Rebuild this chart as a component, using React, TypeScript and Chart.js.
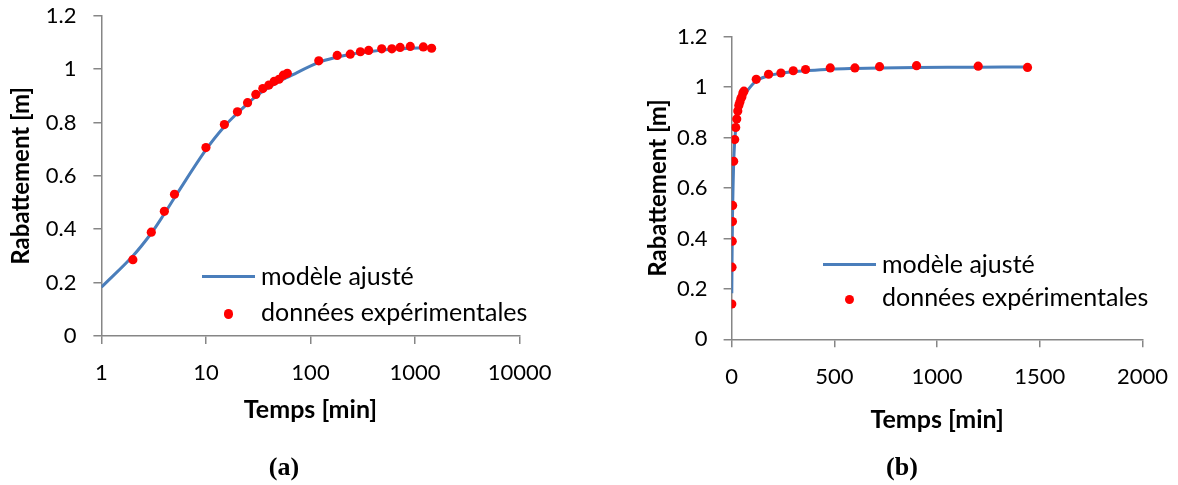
import React, { useEffect, useRef } from "react";
import { Chart, registerables } from "chart.js";

Chart.register(...registerables);

// ---- data ----
const timeMin = [1, 2, 3, 4, 5, 10, 15, 20, 25, 30, 35, 40, 45, 50, 55, 60, 120, 180, 240, 300, 360, 480, 600, 720, 900, 1200, 1440];
const measured = [0.14, 0.286, 0.389, 0.467, 0.531, 0.706, 0.792, 0.84, 0.874, 0.905, 0.927, 0.94, 0.954, 0.962, 0.977, 0.984, 1.031, 1.051, 1.056, 1.065, 1.07, 1.076, 1.076, 1.081, 1.085, 1.083, 1.078];
const model = [0.183, 0.3, 0.385, 0.458, 0.518, 0.698, 0.785, 0.835, 0.87, 0.898, 0.917, 0.931, 0.943, 0.953, 0.962, 0.969, 1.025, 1.045, 1.055, 1.061, 1.065, 1.071, 1.074, 1.076, 1.078, 1.079, 1.08];
const logTicks = [1, 10, 100, 1000, 10000];
const linTicks = [0, 500, 1000, 1500, 2000];
const yTicks = [0, 0.2, 0.4, 0.6, 0.8, 1, 1.2];
const seriesLabels = ["modèle ajusté", "données expérimentales"];
const xTitle = "Temps [min]";
const yTitle = "Rabattement [m]";
const panelLabels = ["(a)", "(b)"];

const FONT = "Lato";
const AXIS = "#868686";
const BLUE = "#4A7EBB";
const RED = "#FF0000";

type Geo = {
  left: number; width: number; height: number;
  areaLeft: number; areaRight: number; areaTop: number; areaBottom: number;
  yTitleCenter: number; xTitleCenter: number; yLabelPad: number;
};

const geoA: Geo = { left: 0, width: 590, height: 485, areaLeft: 101.4, areaRight: 519.6, areaTop: 15.7, areaBottom: 336, yTitleCenter: 21.7, xTitleCenter: 410, yLabelPad: 17 };
const geoB: Geo = { left: 590, width: 588, height: 485, areaLeft: 141.6, areaRight: 552.6, areaTop: 36.7, areaBottom: 339.3, yTitleCenter: 68, xTitleCenter: 420, yLabelPad: 16 };

function buildConfig(kind: "log" | "lin", g: Geo): any {
  const pts = timeMin
    .map((t, i) => ({ x: t, y: measured[i] }))
    .filter((p) => (kind === "log" ? p.x > 1 : true));
  const line = timeMin.map((t, i) => ({ x: t, y: model[i] }));
  const xTitleFont = { family: FONT, size: 25, weight: "bold" as const };
  const yTitleFont = { family: FONT, size: 24, weight: "bold" as const };
  const tickFont = { family: FONT, size: 22 };
  const xLH = xTitleFont.size * 1.2;
  const yLH = yTitleFont.size * 1.2;
  const xScaleHeight = g.height - g.areaBottom;
  const xTitlePadBottom = g.height - g.xTitleCenter - xLH / 2;
  const yTitlePadTop = g.yTitleCenter - yLH / 2;

  const xScale: any =
    kind === "log"
      ? {
          type: "logarithmic",
          min: 1,
          max: 10000,
          afterBuildTicks: (s: any) => {
            s.ticks = logTicks.map((v) => ({ value: v }));
          },
        }
      : {
          type: "linear",
          min: 0,
          max: 2000,
          afterBuildTicks: (s: any) => {
            s.ticks = linTicks.map((v) => ({ value: v }));
          },
        };
  Object.assign(xScale, {
    position: "bottom",
    ticks: { callback: (v: any) => String(v), font: tickFont, color: "#000", padding: 16, autoSkip: false, maxRotation: 0 },
    grid: { display: true, drawOnChartArea: false, drawTicks: true, tickLength: 8, color: AXIS, lineWidth: 1.5 },
    border: { display: true, color: AXIS, width: 1.5 },
    title: { display: true, text: xTitle, font: xTitleFont, color: "#000", padding: { top: 0, bottom: xTitlePadBottom } },
    afterFit: (s: any) => {
      s.height = xScaleHeight;
      s.paddingLeft = 0;
      s.paddingRight = 0;
    },
  });

  return {
    type: "scatter",
    data: {
      datasets: [
        {
          label: seriesLabels[1],
          data: pts,
          pointRadius: 4.6,
          pointBackgroundColor: RED,
          pointBorderWidth: 0,
          showLine: false,
          order: 0,
        },
        {
          label: seriesLabels[0],
          data: line,
          showLine: true,
          pointRadius: 0,
          borderColor: BLUE,
          borderWidth: 3,
          tension: 0.35,
          order: 1,
        },
      ],
    },
    options: {
      animation: false,
      responsive: false,
      devicePixelRatio: 1,
      layout: { padding: { left: 0, top: g.areaTop, right: g.width - g.areaRight, bottom: 0 } },
      plugins: { legend: { display: false }, tooltip: { enabled: false } },
      scales: {
        x: xScale,
        y: {
          type: "linear",
          min: 0,
          max: 1.2,
          afterBuildTicks: (s: any) => {
            s.ticks = yTicks.map((v) => ({ value: v }));
          },
          ticks: { callback: (v: any) => String(Math.round(Number(v) * 10) / 10), font: tickFont, color: "#000", padding: g.yLabelPad },
          grid: { display: true, drawOnChartArea: false, drawTicks: true, tickLength: 8, color: AXIS, lineWidth: 1.5 },
          border: { display: true, color: AXIS, width: 1.5 },
          title: { display: true, text: yTitle, font: yTitleFont, color: "#000", padding: { top: yTitlePadTop, bottom: 0 } },
          afterFit: (s: any) => {
            s.width = g.areaLeft;
            s.paddingTop = 0;
            s.paddingBottom = 0;
          },
        },
      },
    },
  };
}

function Panel({ kind, g }: { kind: "log" | "lin"; g: Geo }) {
  const ref = useRef<HTMLCanvasElement | null>(null);
  useEffect(() => {
    if (!ref.current) return;
    const chart = new Chart(ref.current, buildConfig(kind, g));
    return () => chart.destroy();
  }, [kind]);
  return (
    <canvas
      ref={ref}
      width={g.width}
      height={g.height}
      style={{ position: "absolute", left: g.left, top: 0, width: g.width, height: g.height }}
    />
  );
}

const LEG_SIZE = 25;

function Legend({ x, textX, yLine, yText1, yDot, yText2 }: { x: number; textX: number; yLine: number; yText1: number; yDot: number; yText2: number }) {
  const text: React.CSSProperties = {
    position: "absolute",
    left: textX,
    fontFamily: FONT,
    fontSize: LEG_SIZE,
    lineHeight: `${LEG_SIZE * 1.2}px`,
    color: "#000",
    whiteSpace: "nowrap",
  };
  // offset from top of line box to centre of x-height band for Lato
  const off = LEG_SIZE * (0.987 - 0.253);
  return (
    <>
      <div style={{ position: "absolute", left: x, top: yLine - 1.5, width: 53, height: 3, background: BLUE }} />
      <div style={{ ...text, top: yText1 - off }}>{seriesLabels[0]}</div>
      <div
        style={{
          position: "absolute",
          left: x + 26.5 - 4.6,
          top: yDot - 4.6,
          width: 9.2,
          height: 9.2,
          borderRadius: "50%",
          background: RED,
        }}
      />
      <div style={{ ...text, top: yText2 - off }}>{seriesLabels[1]}</div>
    </>
  );
}

const panelText: React.CSSProperties = {
  position: "absolute",
  fontFamily: "'Liberation Serif', 'Times New Roman', serif",
  fontWeight: "bold",
  fontSize: 26,
  lineHeight: "30px",
  color: "#000",
  transform: "translateX(-50%)",
};

export default function App() {
  return (
    <div style={{ position: "absolute", left: 0, top: 0, width: 1178, height: 485, background: "#fff", overflow: "hidden" }}>
      <Panel kind="log" g={geoA} />
      <Panel kind="lin" g={geoB} />
      <Legend x={202} textX={261} yLine={276} yText1={278} yDot={314} yText2={314} />
      <Legend x={823} textX={882} yLine={264} yText1={266} yDot={299.3} yText2={299.5} />
      <div style={{ ...panelText, left: 284, top: 467 - 15 }}>{panelLabels[0]}</div>
      <div style={{ ...panelText, left: 902, top: 467 - 15 }}>{panelLabels[1]}</div>
    </div>
  );
}
